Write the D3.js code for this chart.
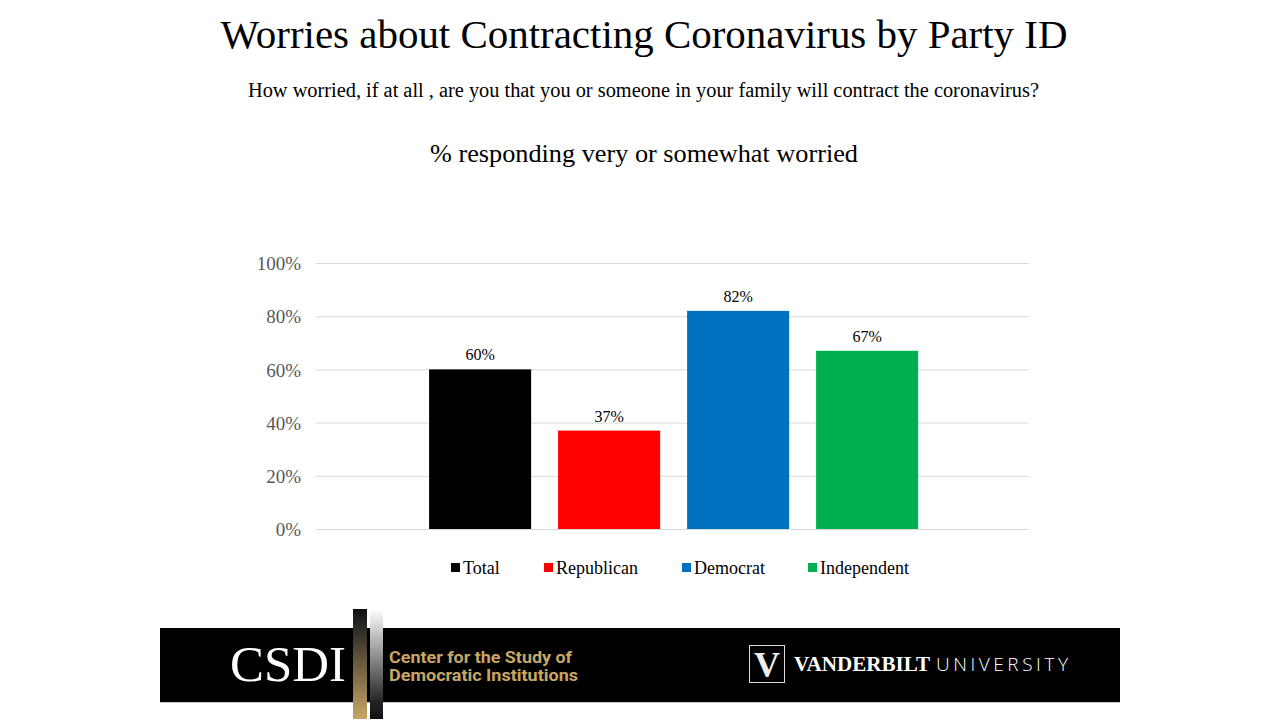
<!DOCTYPE html>
<html>
<head>
<meta charset="utf-8">
<script src="https://cdn.jsdelivr.net/npm/d3@7"></script>
<style>
  html, body { margin: 0; padding: 0; background: #fff; }
  svg { display: block; }
</style>
</head>
<body>
<svg id="chart" width="1280" height="720"></svg>
<script>
const seriesNames = ["Total", "Republican", "Democrat", "Independent"];
const seriesValues = [0.60, 0.37, 0.82, 0.67];
const seriesColors = ["#000000", "#ff0000", "#0070c0", "#00b050"];
const yTicks = [0, 0.2, 0.4, 0.6, 0.8, 1.0];
const titleText = "Worries about Contracting Coronavirus by Party ID";
const subtitleText = "How worried, if at all , are you that you or someone in your family will contract the coronavirus?";
const measureText = "% responding very or somewhat worried";

const serif = "'Liberation Serif', 'Times New Roman', serif";
const svg = d3.select("#chart");

// Titles
svg.append("text").attr("x", 644).attr("y", 48).attr("text-anchor", "middle")
  .style("font-family", serif).style("font-size", "40px").attr("fill", "#000")
  .attr("textLength", 847).attr("lengthAdjust", "spacingAndGlyphs")
  .text(titleText);
svg.append("text").attr("x", 643.5).attr("y", 97).attr("text-anchor", "middle")
  .style("font-family", serif).style("font-size", "20px").attr("fill", "#000")
  .attr("textLength", 791).attr("lengthAdjust", "spacingAndGlyphs")
  .text(subtitleText);
svg.append("text").attr("x", 644).attr("y", 162).attr("text-anchor", "middle")
  .style("font-family", serif).style("font-size", "25px").attr("fill", "#000")
  .attr("textLength", 428).attr("lengthAdjust", "spacingAndGlyphs")
  .text(measureText);

// Plot area
const plotLeft = 316, plotRight = 1029, plotTop = 263, plotBottom = 529;
const y = d3.scaleLinear().domain([0, 1]).range([plotBottom, plotTop]);
const x0 = d3.scaleBand().domain(["group"]).range([plotLeft, plotRight]).padding(0);
const x1 = d3.scaleBand().domain(seriesNames).range([0, x0.bandwidth()])
  .paddingInner(0.209).paddingOuter(0.868).align(0.505);

const yAxis = d3.axisLeft(y).tickValues(yTicks).tickFormat(d3.format(".0%"))
  .tickSize(-(plotRight - plotLeft)).tickPadding(15);
const gy = svg.append("g").attr("transform", `translate(${plotLeft},0)`).call(yAxis);
gy.select(".domain").remove();
gy.selectAll(".tick line").attr("stroke", "#d9d9d9").attr("stroke-width", 1);
gy.selectAll(".tick text").attr("fill", "#595959")
  .style("font-family", serif).style("font-size", "19px").attr("dy", "0.35em");

const g = svg.append("g").attr("transform", `translate(${x0("group")},0)`);
const data = seriesNames.map((n, i) => ({ name: n, value: seriesValues[i], color: seriesColors[i] }));
g.selectAll("rect.bar").data(data).join("rect").attr("class", "bar")
  .attr("x", d => x1(d.name)).attr("width", x1.bandwidth())
  .attr("y", d => y(d.value)).attr("height", d => y(0) - y(d.value))
  .attr("fill", d => d.color);
g.selectAll("text.lbl").data(data).join("text").attr("class", "lbl")
  .attr("x", d => x1(d.name) + x1.bandwidth() / 2).attr("y", d => y(d.value) - 9)
  .attr("text-anchor", "middle").style("font-family", serif).style("font-size", "16px")
  .attr("fill", "#000").text(d => d3.format(".0%")(d.value));

// Legend
const legendX = [451, 544, 682, 808];
const lg = svg.append("g");
const li = lg.selectAll("g").data(data).join("g")
  .attr("transform", (d, i) => `translate(${legendX[i]},568)`);
li.append("rect").attr("x", 0).attr("y", -5).attr("width", 9).attr("height", 9).attr("fill", d => d.color);
li.append("text").attr("x", 12).attr("y", 0).attr("dy", "0.35em")
  .style("font-family", serif).style("font-size", "18px").attr("fill", "#000").text(d => d.name);

// Footer banner
const tan = "#c8a765";
const defs = svg.append("defs");
const g1 = defs.append("linearGradient").attr("id", "gradTan").attr("x1", 0).attr("y1", 0).attr("x2", 0).attr("y2", 1);
g1.append("stop").attr("offset", "0").attr("stop-color", "#111");
g1.append("stop").attr("offset", "0.12").attr("stop-color", "#222");
g1.append("stop").attr("offset", "1").attr("stop-color", tan);
const g2 = defs.append("linearGradient").attr("id", "gradGray").attr("x1", 0).attr("y1", 0).attr("x2", 0).attr("y2", 1);
g2.append("stop").attr("offset", "0").attr("stop-color", "#ffffff");
g2.append("stop").attr("offset", "0.85").attr("stop-color", "#222");
g2.append("stop").attr("offset", "1").attr("stop-color", "#111");

svg.append("rect").attr("x", 160).attr("y", 628).attr("width", 960).attr("height", 74).attr("fill", "#000");
svg.append("line").attr("x1", 160).attr("x2", 1120).attr("y1", 702.5).attr("y2", 702.5).attr("stroke", "#c8c8c8");
svg.append("text").attr("x", 230).attr("y", 681).style("font-family", serif).style("font-size", "50px")
  .attr("fill", "#fff").attr("textLength", 116).attr("lengthAdjust", "spacingAndGlyphs").text("CSDI");
svg.append("rect").attr("x", 353).attr("y", 609).attr("width", 14).attr("height", 110).attr("fill", "url(#gradTan)");
svg.append("rect").attr("x", 370).attr("y", 609).attr("width", 13).attr("height", 110).attr("fill", "url(#gradGray)");
const cond = "'Roboto', 'Liberation Sans', sans-serif";
svg.append("text").attr("x", 389).attr("y", 663).style("font-family", cond).style("font-size", "17px")
  .style("font-weight", "bold").attr("fill", tan).attr("textLength", 183).attr("lengthAdjust", "spacingAndGlyphs")
  .text("Center for the Study of");
svg.append("text").attr("x", 389).attr("y", 681).style("font-family", cond).style("font-size", "17px")
  .style("font-weight", "bold").attr("fill", tan).attr("textLength", 189).attr("lengthAdjust", "spacingAndGlyphs")
  .text("Democratic Institutions");

// Vanderbilt logo
svg.append("rect").attr("x", 749.5).attr("y", 645.5).attr("width", 35).attr("height", 37)
  .attr("fill", "none").attr("stroke", "#ddd").attr("stroke-width", 1);
svg.append("text").attr("x", 767).attr("y", 677).attr("text-anchor", "middle")
  .style("font-family", serif).style("font-size", "36px").style("font-weight", "bold")
  .attr("fill", "#eee").text("V");
svg.append("text").attr("x", 794).attr("y", 671).style("font-family", serif).style("font-size", "21px")
  .style("font-weight", "bold").attr("fill", "#fff").attr("textLength", 136).attr("lengthAdjust", "spacingAndGlyphs")
  .text("VANDERBILT");
svg.append("text").attr("x", 936).attr("y", 671).style("font-family", "'Open Sans', sans-serif").style("font-size", "19px")
  .style("font-weight", "300").attr("fill", "#fff").attr("textLength", 132).attr("lengthAdjust", "spacing")
  .text("UNIVERSITY");
</script>
</body>
</html>
